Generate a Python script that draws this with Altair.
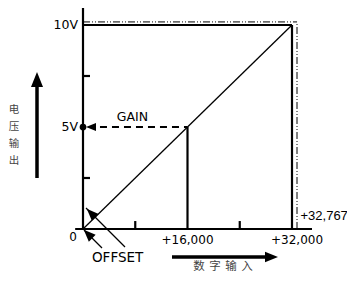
import altair as alt
import pandas as pd

# ---- data (counts on x, volts on y) ----
full_count = 32000
max_count = 32767
mid_count = 16000
full_volt = 10
gain_volt = 5
dashdot_volt = 10.15
minor_x_ticks = [8000, 24000]
minor_y_ticks = [2.5, 7.5]
x_label_pos = [-1530, 16000, 32767]
x_labels = ["0", "+16,000", "+32,000"]
y_label_vals = [10, 5]
y_labels = ["10V", "5V"]
y_title_chars = list("电压输出")
x_title_chars = list("数字输入")

# scale extents (whole canvas)
X_DOM = [-11483, 40421]
Y_DOM = [-2.157, 10.833]
W, H = 339, 265

xs = alt.Scale(domain=X_DOM, nice=False, zero=False)
ys = alt.Scale(domain=Y_DOM, nice=False, zero=False)
X = lambda f: alt.X(f, type="quantitative", scale=xs, axis=None)
Y = lambda f: alt.Y(f, type="quantitative", scale=ys, axis=None)

def rules(rows, **mk):
    df = pd.DataFrame(rows, columns=["x", "y", "x2", "y2"])
    return alt.Chart(df).mark_rule(**mk).encode(
        x=X("x"), y=Y("y"), x2="x2", y2="y2")

thick = rules([
    [0, 0, 0, Y_DOM[1]],                       # y axis
    [-1200, 0, 35062, 0],                      # x axis
    [0, full_volt, full_count, full_volt],     # 10V line
    [full_count, 0, full_count, full_volt],    # 32000 vertical
    [mid_count, 0, mid_count, gain_volt],      # 16000 vertical
] + [[0, v, 1070, v] for v in minor_y_ticks]
  + [[c, 0, c, 0.39] for c in minor_x_ticks],
    color="black", strokeWidth=2.2, strokeCap="butt")

thin = rules([
    [0, 0, full_count, full_volt],             # transfer line
    [2909, -0.93, 153, -0.05],                 # offset arrow 1
    [6431, -0.88, 459, 1.03],                  # offset arrow 2
], color="black", strokeWidth=1.3)

dashed = rules([[2600, gain_volt, mid_count, gain_volt]],
               color="black", strokeWidth=2, strokeDash=[7, 5])

dashdot = rules([
    [0, dashdot_volt, max_count, dashdot_volt],
    [max_count, 0, max_count, dashdot_volt],
], color="black", strokeWidth=1, strokeDash=[7, 2, 1, 2, 1, 2])

bigarrows = rules([
    [-7043, 2.5, -7043, 7.0],                  # up arrow (voltage output)
    [13627, -1.37, 28019, -1.37],              # right arrow (digital input)
], color="black", strokeWidth=3.5, strokeCap="butt")

# arrow heads
heads = pd.DataFrame({
    "x": [-7043, 28861, 1225, 766, 1225],
    "y": [7.33, -1.37, gain_volt, -0.245, 0.78],
    "ang": [0, 90, 270, 315, 315],
    "sz": [225, 169, 100, 144, 144],
})
head_layer = alt.Chart(heads).mark_point(
    shape="M0,-1L0.8,1L-0.8,1Z", filled=True, color="black", opacity=1
).encode(x=X("x"), y=Y("y"), angle=alt.Angle("ang:Q", scale=None),
         size=alt.Size("sz:Q", scale=None))

dot = alt.Chart(pd.DataFrame({"x": [0], "y": [gain_volt]})).mark_circle(
    size=45, color="black", opacity=1).encode(x=X("x"), y=Y("y"))

FONT = "DejaVu Sans"
def texts(df, font=FONT, color="black", **mk):
    return alt.Chart(df).mark_text(font=font, color=color, **mk).encode(
        x=X("x"), y=Y("y"), text="t:N")

ylab = texts(pd.DataFrame({"x": [-765] * 2, "y": y_label_vals, "t": y_labels}),
             align="right", baseline="middle", fontSize=12.5)
xlab = texts(pd.DataFrame({"x": x_label_pos, "y": [-0.39, -0.53, -0.53], "t": x_labels}),
             align="center", baseline="middle", fontSize=12)
maxlab = texts(pd.DataFrame({"x": [33300], "y": [0.64], "t": ["+32,767"]}),
               font="Liberation Sans", align="left", baseline="middle", fontSize=13)
gain = texts(pd.DataFrame({"x": [7579], "y": [5.49], "t": ["GAIN"]}),
             align="center", baseline="middle", fontSize=12.5)
offset = texts(pd.DataFrame({"x": [1378], "y": [-1.42], "t": ["OFFSET"]}),
               align="left", baseline="middle", fontSize=13.5)

ytitle = texts(pd.DataFrame({"x": [-10570] * 4, "y": [5.83, 5.0, 4.17, 3.34],
                             "t": y_title_chars}),
               font="Noto Sans CJK SC", color="#444", fontSize=10.5,
               align="center", baseline="middle")
xtitle = texts(pd.DataFrame({"x": [17761, 20210, 22660, 25110], "y": [-1.86] * 4,
                             "t": x_title_chars}),
               font="Noto Sans CJK SC", color="#444", fontSize=11.5,
               align="center", baseline="middle")

chart = alt.layer(
    dashdot, thin, thick, dashed, bigarrows, head_layer, dot,
    ylab, xlab, maxlab, gain, offset, ytitle, xtitle
).properties(
    width=W, height=H, padding=0, autosize=alt.AutoSizeParams(type="none")
).configure_view(stroke=None)

chart.save("out.html", embed_options={"renderer": "svg", "actions": False})
